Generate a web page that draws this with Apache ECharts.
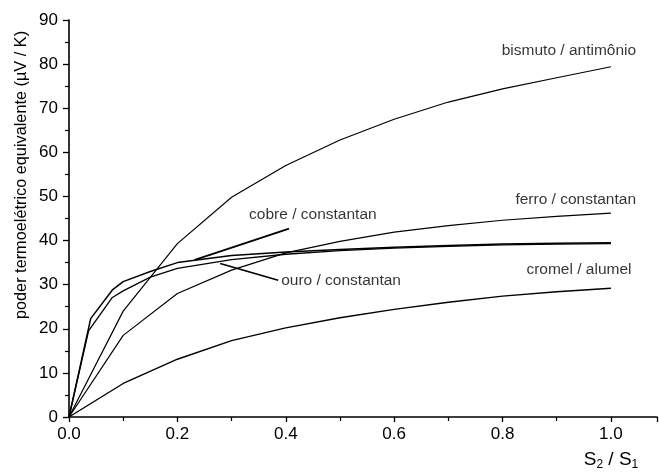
<!DOCTYPE html>
<html>
<head>
<meta charset="utf-8">
<script src="https://cdn.jsdelivr.net/npm/echarts@6/dist/echarts.min.js"></script>
<style>html,body{margin:0;padding:0;background:#fff}#c{width:659px;height:474px}</style>
</head>
<body>
<div id="c"></div>
<script>
// ---- data ----
var xStd = [0, 0.1, 0.2, 0.3, 0.4, 0.5, 0.6, 0.7, 0.8, 0.9, 1.0];
var bismutoY = [0, 24, 39.3, 49.8, 57, 62.8, 67.5, 71.4, 74.4, 76.9, 79.4];
var ferroY   = [0, 18.5, 28, 33.3, 37.2, 39.8, 41.9, 43.4, 44.6, 45.5, 46.2];
var cromelY  = [0, 7.6, 13.1, 17.3, 20.2, 22.5, 24.4, 26.0, 27.4, 28.4, 29.2];
var cobreX = [0, 0.04, 0.08, 0.1, 0.15, 0.2, 0.3, 0.4, 0.5, 0.6, 0.7, 0.8, 0.9, 1.0];
var cobreY = [0, 22.3, 28.8, 30.7, 33, 35, 36.6, 37.4, 38, 38.5, 38.9, 39.2, 39.4, 39.5];
var ouroX  = [0, 0.036, 0.08, 0.1, 0.15, 0.2, 0.3, 0.4, 0.5, 0.6, 0.7, 0.8, 0.9, 1.0];
var ouroY  = [0, 19.5, 27.1, 28.6, 31.7, 33.7, 35.7, 36.9, 37.7, 38.3, 38.7, 39, 39.2, 39.3];
// leader lines (data coords)
var cobreLeader = [[0.232, 35.6], [0.406, 42.7]];
var ouroLeader  = [[0.279, 34.8], [0.386, 31.0]];
// curve labels
var labelTexts = ['bismuto / antimônio', 'ferro / constantan', 'cromel / alumel', 'cobre / constantan', 'ouro / constantan'];
var labelX = [0.9225, 0.935, 0.941, 0.450, 0.502];
var labelY = [83.0, 49.2, 33.3, 45.8, 31.0];
var yTicks = [0, 10, 20, 30, 40, 50, 60, 70, 80, 90];
var xTicks = [0.0, 0.2, 0.4, 0.6, 0.8, 1.0];
var yTitle = 'poder termoelétrico equivalente (µV / K)';

function pairs(xs, ys) { return xs.map(function (x, i) { return [x, ys[i]]; }); }

var FONT = '"Liberation Sans", Arial, sans-serif';
var lineSeries = function (d, w) {
  return { type: 'line', data: d, symbol: 'none', smooth: false,
    lineStyle: { color: '#000', width: w || 1.3 }, animation: false, z: 3 };
};

var chart = echarts.init(document.getElementById('c'));
chart.setOption({
  animation: false,
  backgroundColor: '#fff',
  grid: { left: 69, right: 2, top: 20, bottom: 57 },
  xAxis: {
    type: 'value', min: 0, max: 1.085, interval: 0.2,
    axisLine: { lineStyle: { color: '#000', width: 1.6 } },
    axisTick: { length: 5, lineStyle: { color: '#000', width: 1.3 } },
    minorTick: { show: true, splitNumber: 2, length: 4, lineStyle: { color: '#000', width: 1.2 } },
    axisLabel: { margin: 9, color: '#000', fontFamily: FONT, fontSize: 17,
      showMaxLabel: false,
      formatter: function (v) { var r = Math.round(v * 10) / 10; return (xTicks.indexOf(r) >= 0 && Math.abs(v - r) < 1e-6) ? v.toFixed(1) : ''; } },
    splitLine: { show: false }
  },
  yAxis: {
    type: 'value', min: 0, max: 90, interval: 10,
    axisLine: { show: true, lineStyle: { color: '#000', width: 1.6 } },
    axisTick: { show: true, length: 6, lineStyle: { color: '#000', width: 1.3 } },
    minorTick: { show: true, splitNumber: 2, length: 4, lineStyle: { color: '#000', width: 1.2 } },
    axisLabel: { margin: 11, color: '#000', fontFamily: FONT, fontSize: 17,
      formatter: function (v) { return yTicks.indexOf(v) >= 0 ? String(v) : ''; } },
    splitLine: { show: false }
  },
  series: [
    lineSeries(pairs(xStd, bismutoY), 1.2),
    lineSeries(pairs(xStd, ferroY), 1.2),
    lineSeries(pairs(xStd, cromelY), 1.4),
    lineSeries(pairs(cobreX, cobreY), 1.5),
    lineSeries(pairs(ouroX, ouroY), 1.3),
    lineSeries(cobreLeader, 1.8),
    lineSeries(ouroLeader, 1.8),
    {
      type: 'scatter', symbolSize: 0, z: 5,
      data: labelTexts.map(function (t, i) { return { name: t, value: [labelX[i], labelY[i]] }; }),
      label: { show: true, position: 'inside', formatter: '{b}', color: '#000',
        fontFamily: FONT, fontSize: 15.5 }
    }
  ],
  graphic: [
    { type: 'text', x: 22, y: 175, rotation: Math.PI / 2,
      style: { text: yTitle, fill: '#000', font: '16.3px ' + FONT, textAlign: 'center', textVerticalAlign: 'middle' } },
    { type: 'text', x: 611, y: 460,
      style: { text: '{s|S}{b|2}{s| / S}{b|1}', textAlign: 'center', textVerticalAlign: 'middle',
        rich: { s: { fontSize: 19, fontFamily: FONT, fill: '#000' }, b: { fontSize: 12, fontFamily: FONT, fill: '#000', padding: [9, 0, 0, 0] } } } }
  ]
});
</script>
</body>
</html>
